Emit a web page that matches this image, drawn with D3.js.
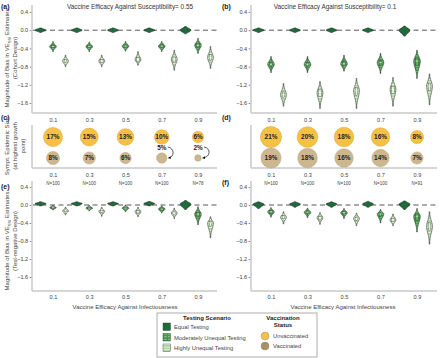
<!DOCTYPE html>
<html>
<head>
<meta charset="utf-8">
<script src="https://cdn.jsdelivr.net/npm/d3@7"></script>
<style>
body { margin: 0; background: #fff; }
svg { font-family: "Liberation Sans", Arial, sans-serif; }
</style>
</head>
<body>
<div id="chart"></div>
<script>
// vaccine efficacy against infectiousness (x groups)
const veI = [0.1, 0.3, 0.5, 0.7, 0.9];
const scenarios = ["Equal Testing", "Moderately Unequal Testing", "Highly Unequal Testing"];
const biasTicks = [0.4, 0, -0.4, -0.8, -1.2, -1.6];

// bias distributions: one row per scenario (equal, moderate, high), one value per VE_I
// (a) cohort, VE_S = 0.55
const cohortAMed = [[0, 0, 0, 0, 0], [-0.36, -0.36, -0.35, -0.35, -0.33], [-0.68, -0.68, -0.65, -0.64, -0.60]];
const cohortALo  = [[-0.05, -0.05, -0.05, -0.05, -0.08], [-0.47, -0.47, -0.46, -0.47, -0.51], [-0.80, -0.80, -0.77, -0.88, -0.84]];
const cohortAHi  = [[0.05, 0.05, 0.05, 0.05, 0.08], [-0.25, -0.26, -0.25, -0.25, -0.18], [-0.55, -0.55, -0.47, -0.44, -0.36]];
// (b) cohort, VE_S = 0.1
const cohortBMed = [[0, 0, 0, 0, 0], [-0.75, -0.75, -0.74, -0.71, -0.68], [-1.42, -1.37, -1.33, -1.30, -1.23]];
const cohortBLo  = [[-0.05, -0.05, -0.05, -0.05, -0.13], [-0.93, -0.93, -0.90, -0.95, -1.06], [-1.67, -1.72, -1.72, -1.67, -1.64]];
const cohortBHi  = [[0.05, 0.05, 0.05, 0.05, 0.09], [-0.58, -0.58, -0.55, -0.51, -0.44], [-1.17, -1.13, -1.06, -1.04, -0.96]];
// (e) test-negative, VE_S = 0.55
const tndEMed = [[0.03, 0.03, 0.03, 0.03, 0.02], [-0.06, -0.07, -0.07, -0.09, -0.20], [-0.13, -0.14, -0.15, -0.18, -0.40]];
const tndELo  = [[-0.02, -0.02, -0.02, -0.02, -0.10], [-0.11, -0.13, -0.15, -0.18, -0.44], [-0.22, -0.25, -0.26, -0.30, -0.73]];
const tndEHi  = [[0.07, 0.07, 0.07, 0.08, 0.10], [-0.01, -0.01, 0.0, -0.02, -0.04], [-0.05, -0.05, -0.05, -0.07, -0.26]];
// (f) test-negative, VE_S = 0.1
const tndFMed = [[0.02, 0.02, 0.02, 0.02, 0.02], [-0.15, -0.16, -0.17, -0.20, -0.25], [-0.27, -0.28, -0.30, -0.33, -0.47]];
const tndFLo  = [[-0.08, -0.05, -0.05, -0.05, -0.10], [-0.27, -0.28, -0.30, -0.40, -0.60], [-0.42, -0.43, -0.46, -0.46, -0.87]];
const tndFHi  = [[0.07, 0.07, 0.07, 0.08, 0.09], [-0.06, -0.07, -0.08, -0.10, -0.08], [-0.15, -0.17, -0.18, -0.20, -0.15]];

// symptomatic epidemic size (%) at highest growth point
const unvaxC = [17, 15, 13, 10, 6];
const vaxC   = [8, 7, 6, 5, 2];
const nC     = [100, 100, 100, 100, 78];
const unvaxD = [21, 20, 18, 16, 8];
const vaxD   = [19, 18, 16, 14, 7];
const nD     = [100, 100, 100, 100, 91];

const greens = ["#1f6b3a", "#43994a", "#a9d49c"];
const fills = [greens[0], "url(#patMod)", "url(#patHigh)"];
const unvaxCol = "#f4c145", vaxCol = "#cdb78f";
const axisGray = "#c8c8c8", textCol = "#444";

const W = 440, H = 358;
const svg = d3.select("#chart").append("svg").attr("width", W).attr("height", H);

// patterns for unequal testing scenarios
const defs = svg.append("defs");
let p = defs.append("pattern").attr("id", "patMod").attr("patternUnits", "userSpaceOnUse")
    .attr("width", 4).attr("height", 2.6);
p.append("rect").attr("width", 4).attr("height", 2.6).attr("fill", greens[1]);
p.append("line").attr("x1", 0).attr("x2", 2.6).attr("y1", 1.3).attr("y2", 1.3)
    .attr("stroke", "#d6eed0").attr("stroke-width", 0.5);
p = defs.append("pattern").attr("id", "patHigh").attr("patternUnits", "userSpaceOnUse")
    .attr("width", 4).attr("height", 2.6);
p.append("rect").attr("width", 4).attr("height", 2.6).attr("fill", greens[2]);
p.append("line").attr("x1", 0).attr("x2", 4).attr("y1", 1.3).attr("y2", 1.3)
    .attr("stroke", "#ffffff").attr("stroke-width", 0.7);
defs.append("marker").attr("id", "arrow").attr("viewBox", "0 0 6 6").attr("refX", 5).attr("refY", 3)
    .attr("markerWidth", 4).attr("markerHeight", 4).attr("orient", "auto")
    .append("path").attr("d", "M0,0L6,3L0,6Z").attr("fill", "#111");

// two columns of panels
const cols = [
    {axisX: 32, right: 217, x: d3.scalePoint().domain(veI).range([53, 198])},
    {axisX: 251, right: 437, x: d3.scalePoint().domain(veI).range([271, 417])}
];
const offsets = [-12.5, 0, 12.5];
const halfW = [5.5, 3.3, 2.9];
const spreadDiv = [2.0, 2.6, 2.6];

function violinPath(cx, y, med, lo, hi, hw, div)
{
    let pts = [];
    for (let i = 0; i <= 30; i++) {
        let v = lo + (hi - lo) * i / 30;
        let s = (v < med ? med - lo : hi - med) / div;
        let w = hw * Math.exp(-0.5 * Math.pow((v - med) / s, 2));
        pts.push({v: v, w: Math.max(w, 0.3)});
    }
    return d3.area()
        .x0(d => cx - d.w)
        .x1(d => cx + d.w)
        .y(d => y(d.v))
        .curve(d3.curveBasis)(pts);
}

function yAxis(g, col, y, top, bottom)
{
    g.append("line").attr("x1", col.axisX).attr("x2", col.axisX).attr("y1", top).attr("y2", bottom)
        .attr("stroke", axisGray).attr("stroke-width", 1.5);
    let ax = g.append("g").attr("transform", `translate(${col.axisX - 0.8},0)`)
        .call(d3.axisLeft(y).tickValues(biasTicks).tickFormat(d3.format(".1f")).tickSize(1.5).tickPadding(1.5));
    ax.select(".domain").remove();
    ax.selectAll("line").attr("stroke", "#888");
    ax.selectAll("text").attr("font-size", 5.6).attr("fill", textCol).attr("font-family", null);
}

function xLabels(g, col, yPos, pad)
{
    let ax = g.append("g").attr("transform", `translate(0,${yPos})`)
        .call(d3.axisBottom(col.x).tickSize(0).tickPadding(pad).tickFormat(d3.format(".1f")));
    ax.select(".domain").remove();
    ax.selectAll("text").attr("font-size", 5.6).attr("fill", textCol).attr("font-family", null);
}

function biasPanel(col, y, top, bottom, med, lo, hi)
{
    let g = svg.append("g");
    yAxis(g, col, y, top, bottom);
    g.append("line").attr("x1", col.axisX).attr("x2", col.right).attr("y1", bottom).attr("y2", bottom)
        .attr("stroke", axisGray).attr("stroke-width", 1.5);
    g.append("line").attr("x1", col.axisX + 1).attr("x2", col.right).attr("y1", y(0)).attr("y2", y(0))
        .attr("stroke", "#444").attr("stroke-width", 0.9).attr("stroke-dasharray", "5,3.5");

    scenarios.forEach((s, si) => {
        veI.forEach((v, vi) => {
            let cx = col.x(v) + offsets[si];
            let m = med[si][vi], l = lo[si][vi], h = hi[si][vi];
            g.append("path").attr("d", violinPath(cx, y, m, l, h, halfW[si], spreadDiv[si]))
                .attr("fill", fills[si]).attr("stroke", "#222").attr("stroke-width", 0.55);
            if (si > 0) {
                let b1 = y(m + (h - m) * 0.25), b2 = y(m - (m - l) * 0.25);
                g.append("rect").attr("x", cx - 1.3).attr("width", 2.6).attr("y", b1).attr("height", b2 - b1)
                    .attr("fill", si === 1 ? "#5cae5c" : "#e2f2dc").attr("stroke", "#333").attr("stroke-width", 0.35);
                g.append("line").attr("x1", cx - 1.3).attr("x2", cx + 1.3).attr("y1", y(m)).attr("y2", y(m))
                    .attr("stroke", "#fff").attr("stroke-width", 0.6);
            }
        });
    });
    return g;
}

// y scales
const yTop = d3.scaleLinear().domain([0.4, -1.6]).range([12, 103]);
const yBot = d3.scaleLinear().domain([0.4, -1.6]).range([187, 277]);

biasPanel(cols[0], yTop, 5, 113, cohortAMed, cohortALo, cohortAHi);
biasPanel(cols[1], yTop, 5, 113, cohortBMed, cohortBLo, cohortBHi);
biasPanel(cols[0], yBot, 181, 291, tndEMed, tndELo, tndEHi);
biasPanel(cols[1], yBot, 181, 291, tndFMed, tndFLo, tndFHi);

// x labels between top and middle panels, below middle and bottom panels
cols.forEach(col => {
    xLabels(svg, col, 115, 3);
    xLabels(svg, col, 168, 5);
    xLabels(svg, col, 291, 4.5);
});

// epidemic size panels
const rScale = d3.scaleSqrt().domain([0, 21]).range([0, 10.6]);
function sizePanel(col, unvax, vax, n)
{
    let g = svg.append("g");
    g.append("line").attr("x1", col.axisX).attr("x2", col.axisX).attr("y1", 125).attr("y2", 168)
        .attr("stroke", axisGray).attr("stroke-width", 1.5);
    g.append("line").attr("x1", col.axisX).attr("x2", col.right).attr("y1", 168).attr("y2", 168)
        .attr("stroke", axisGray).attr("stroke-width", 1.5);
    const rows = [{vals: unvax, y: 137, fill: unvaxCol, stroke: "#dca532"}, {vals: vax, y: 158, fill: vaxCol, stroke: "#b9a27a"}];
    rows.forEach(row => {
        row.vals.forEach((p, i) => {
            let cx = col.x(veI[i]);
            g.append("circle").attr("cx", cx).attr("cy", row.y).attr("r", rScale(p))
                .attr("fill", row.fill).attr("stroke", row.stroke).attr("stroke-width", 0.5);
            if (p >= 6) {
                g.append("text").attr("x", cx).attr("y", row.y + 2.3).attr("text-anchor", "middle")
                    .attr("font-size", 6.4).attr("font-weight", "bold").attr("fill", "#222").text(p + "%");
            } else {
                let r = rScale(p);
                g.append("text").attr("x", cx).attr("y", row.y - 8).attr("text-anchor", "middle")
                    .attr("font-size", 6.4).attr("font-weight", "bold").attr("fill", "#222").text(p + "%");
                g.append("path")
                    .attr("d", `M${cx + 6},${row.y - 11}C${cx + 13},${row.y - 10} ${cx + 13},${row.y - 1} ${cx + r + 1.5},${row.y}`)
                    .attr("fill", "none").attr("stroke", "#111").attr("stroke-width", 0.7)
                    .attr("marker-end", "url(#arrow)");
            }
        });
    });
    n.forEach((v, i) => {
        g.append("text").attr("x", col.x(veI[i])).attr("y", 184.5).attr("text-anchor", "middle")
            .attr("font-size", 4.5).attr("fill", textCol).text("N=" + v);
    });
}
sizePanel(cols[0], unvaxC, vaxC, nC);
sizePanel(cols[1], unvaxD, vaxD, nD);

// panel letters and titles
const letters = [["(a)", 1, 9], ["(b)", 222, 9], ["(c)", 1, 120], ["(d)", 222, 120], ["(e)", 1, 189], ["(f)", 222, 185]];
letters.forEach(l => {
    svg.append("text").attr("x", l[1]).attr("y", l[2]).attr("font-size", 7).attr("font-weight", "bold")
        .attr("fill", "#222").text(l[0]);
});
svg.append("text").attr("x", 130).attr("y", 9).attr("text-anchor", "middle").attr("font-size", 6.4)
    .attr("fill", "#333").text("Vaccine Efficacy Against Susceptibility= 0.55");
svg.append("text").attr("x", 335).attr("y", 9).attr("text-anchor", "middle").attr("font-size", 6.4)
    .attr("fill", "#333").text("Vaccine Efficacy Against Susceptibility= 0.1");

// x axis titles
[125, 343].forEach(x => {
    svg.append("text").attr("x", x).attr("y", 308.5).attr("text-anchor", "middle").attr("font-size", 6)
        .attr("fill", textCol).text("Vaccine Efficacy Against Infectiousness");
});

// rotated y axis titles
function yTitle(lines, cy, sub)
{
    lines.forEach((ln, i) => {
        let t = svg.append("text").attr("transform", `translate(${9 + i * 8},${cy}) rotate(-90)`)
            .attr("text-anchor", "middle").attr("font-size", 6).attr("fill", textCol);
        if (i === 0 && sub) {
            t.append("tspan").text("Magnitude of Bias in VE");
            t.append("tspan").attr("font-size", 4.2).attr("dy", 1.5).text(sub);
            t.append("tspan").attr("dy", -1.5).text(" Estimates");
        } else {
            t.text(ln);
        }
    });
}
yTitle(["", "(Cohort Design)"], 58, "SSI");
yTitle(["Sympt. Epidemic Size", "(at highest growth", "point)"], 146, null);
yTitle(["", "(Test-negative Design)"], 241, "SSI");

// legend
const lg = svg.append("g");
lg.append("rect").attr("x", 157).attr("y", 313).attr("width", 160).attr("height", 44)
    .attr("fill", "#fff").attr("stroke", "#999").attr("stroke-width", 0.8);
lg.append("text").attr("x", 207).attr("y", 319.5).attr("text-anchor", "middle").attr("font-size", 6)
    .attr("font-weight", "bold").attr("fill", "#222").text("Testing Scenario");
scenarios.forEach((s, i) => {
    let yy = 327 + i * 10.5;
    lg.append("rect").attr("x", 163).attr("y", yy - 4).attr("width", 7.5).attr("height", 7.5)
        .attr("fill", fills[i]).attr("stroke", "#333").attr("stroke-width", 0.4);
    lg.append("text").attr("x", 174).attr("y", yy + 2).attr("font-size", 5.8).attr("fill", textCol).text(s);
});
lg.append("text").attr("x", 283).attr("y", 319.5).attr("text-anchor", "middle").attr("font-size", 6)
    .attr("font-weight", "bold").attr("fill", "#222").text("Vaccination");
lg.append("text").attr("x", 283).attr("y", 326.5).attr("text-anchor", "middle").attr("font-size", 6)
    .attr("font-weight", "bold").attr("fill", "#222").text("Status");
[["Unvaccinated", unvaxCol], ["Vaccinated", "#a98f5e"]].forEach((d, i) => {
    let yy = 336 + i * 10;
    lg.append("circle").attr("cx", 265).attr("cy", yy).attr("r", 4).attr("fill", d[1])
        .attr("stroke", "#888").attr("stroke-width", 0.4);
    lg.append("text").attr("x", 273).attr("y", yy + 2).attr("font-size", 5.8).attr("fill", textCol).text(d[0]);
});
</script>
</body>
</html>
